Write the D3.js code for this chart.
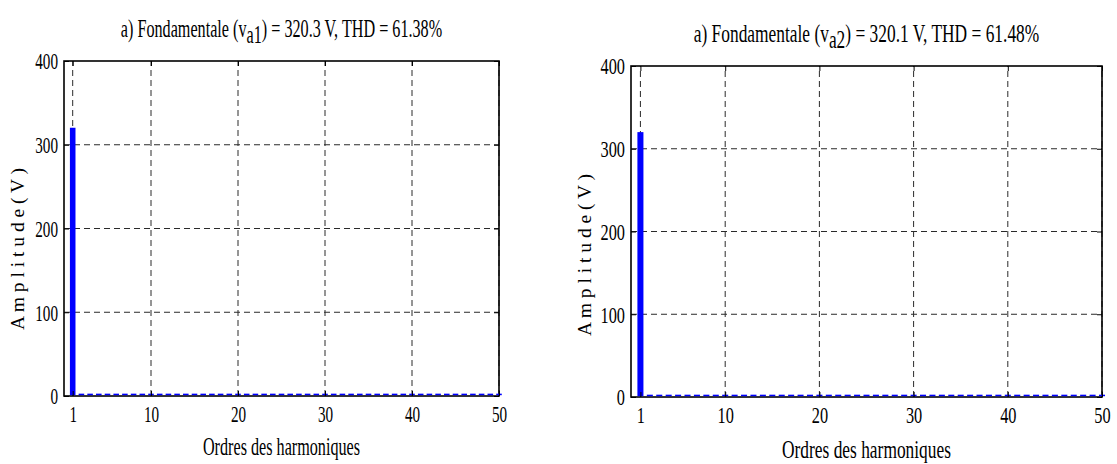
<!DOCTYPE html>
<html><head><meta charset="utf-8">
<script src="https://cdn.jsdelivr.net/npm/d3@7"></script>
<style>
body{margin:0;background:#fff}
</style>
</head><body>
<svg id="c" width="1117" height="464"></svg>
<script>
// ---- data ----
const harmonics = [1,2,3,4,5,6,7,8,9,10,11,12,13,14,15,16,17,18,19,20,21,22,23,24,25,26,27,28,29,30,31,32,33,34,35,36,37,38,39,40,41,42,43,44,45,46,47,48,49,50];
const ampVa1 = [320.3,2.8,2.8,2.8,2.8,2.8,2.8,2.8,2.8,2.8,2.8,2.8,2.8,2.8,2.8,2.8,2.8,2.8,2.8,2.8,2.8,2.8,2.8,2.8,2.8,2.8,2.8,2.8,2.8,2.8,2.8,2.8,2.8,2.8,2.8,2.8,2.8,2.8,2.8,2.8,2.8,2.8,2.8,2.8,2.8,2.8,2.8,2.8,2.8,2.8];
const ampVa2 = [320.1,2.8,2.8,2.8,2.8,2.8,2.8,2.8,2.8,2.8,2.8,2.8,2.8,2.8,2.8,2.8,2.8,2.8,2.8,2.8,2.8,2.8,2.8,2.8,2.8,2.8,2.8,2.8,2.8,2.8,2.8,2.8,2.8,2.8,2.8,2.8,2.8,2.8,2.8,2.8,2.8,2.8,2.8,2.8,2.8,2.8,2.8,2.8,2.8,2.8];
const xTicks = [1,10,20,30,40,50];
const yTicks = [0,100,200,300,400];
const titleA1 = ["a) Fondamentale (v", "a1", ") = 320.3 V, THD = 61.38%"];
const titleA2 = ["a) Fondamentale (v", "a2", ") = 320.1 V, THD = 61.48%"];
const xLabel = "Ordres des harmoniques";
const yLabel = "A m p l i t u d e  ( V )";

const FONT = "'Liberation Serif', 'Times New Roman', Times, serif";
const svg = d3.select("#c");

function panel(cfg){
  const g = svg.append("g");
  const sx = cfg.sx;
  const x = d3.scaleLinear().domain([0,50]).range([cfg.x0,cfg.x1]);
  const y = d3.scaleLinear().domain([0,400]).range([cfg.y0,cfg.y1]);

  // grid
  g.append("g").selectAll("line").data(xTicks).join("line")
    .attr("x1",d=>x(d)).attr("x2",d=>x(d)).attr("y1",y(0)).attr("y2",y(400))
    .attr("stroke","#2a2a2a").attr("stroke-width",1).attr("stroke-dasharray","6,4");
  g.append("g").selectAll("line").data([100,200,300]).join("line")
    .attr("x1",x(0)).attr("x2",x(50)).attr("y1",d=>y(d)).attr("y2",d=>y(d))
    .attr("stroke","#2a2a2a").attr("stroke-width",1).attr("stroke-dasharray","6,4");

  // frame
  g.append("rect").attr("x",x(0)).attr("y",y(400)).attr("width",x(50)-x(0)).attr("height",y(0)-y(400))
    .attr("fill","none").attr("stroke","#000").attr("stroke-width",1.6);

  // bars
  const bw = 0.64;
  g.append("g").selectAll("rect").data(harmonics.map((h,i)=>({h, v:cfg.data[i]}))).join("rect")
    .attr("x",d=>x(d.h-bw/2)).attr("width",x(bw)-x(0))
    .attr("y",d=>y(d.v)).attr("height",d=>y(0)-y(d.v)-0.8)
    .attr("fill","#0000ff");

  // axes (inward ticks)
  const fmt = d3.format("d");
  const ax = [
    {a:d3.axisBottom(x).tickValues(xTicks).tickSize(-5).tickSizeOuter(0).tickFormat(fmt), t:`translate(0,${y(0)})`},
    {a:d3.axisTop(x).tickValues(xTicks).tickSize(-5).tickSizeOuter(0).tickFormat(""), t:`translate(0,${y(400)})`},
    {a:d3.axisLeft(y).tickValues(yTicks).tickSize(-5).tickSizeOuter(0).tickFormat(fmt), t:`translate(${x(0)},0)`},
    {a:d3.axisRight(y).tickValues(yTicks).tickSize(-5).tickSizeOuter(0).tickFormat(""), t:`translate(${x(50)},0)`}
  ];
  ax.forEach((o,i)=>{
    const ag = g.append("g").attr("transform",o.t).call(o.a)
      .attr("font-family",FONT).attr("font-size",cfg.tickFs);
    ag.select(".domain").remove();
    ag.selectAll(".tick line").attr("stroke","#000");
    ag.selectAll("text").attr("fill","#000");
    if(i===0){
      ag.selectAll("text").attr("y",0).attr("dy",null)
        .attr("transform",`translate(0,${cfg.xtickBase}) scale(${sx},1)`);
    }
    if(i===2){
      ag.selectAll("text").attr("x",0).attr("dy","0.34em")
        .attr("transform",`translate(${-cfg.ytickGap},0) scale(${sx},1)`);
    }
  });

  // title
  const cx = (x(0)+x(50))/2;
  const t = g.append("text").attr("font-family",FONT).attr("font-size",cfg.titleFs).attr("text-anchor","middle")
    .attr("transform",`translate(${cx},${cfg.titleBase}) scale(${sx},1)`);
  t.append("tspan").text(cfg.title[0]);
  t.append("tspan").attr("dy",6).text(cfg.title[1]);
  t.append("tspan").attr("dy",-6).text(cfg.title[2]);

  // x label
  g.append("text").attr("font-family",FONT).attr("font-size",cfg.titleFs).attr("text-anchor","middle")
    .attr("transform",`translate(${cx},${cfg.xlabBase}) scale(${sx},1)`).text(xLabel);

  // y label
  g.append("text").attr("font-family",FONT).attr("font-size",cfg.ylabFs).attr("text-anchor","middle")
    .attr("transform",`translate(${cfg.ylabX},${cfg.ylabY}) rotate(-90) scale(1,0.95)`).text(yLabel);
}

panel({x0:64,x1:499,y0:396,y1:61,sx:0.66,data:ampVa1,title:titleA1,tickFs:23,titleFs:24.5,ylabFs:19.5,
  xtickBase:26,ytickGap:6,titleBase:37,xlabBase:455,ylabX:24,ylabY:249});
panel({x0:631,x1:1102,y0:397,y1:66,sx:0.71,data:ampVa2,title:titleA2,tickFs:23,titleFs:24.5,ylabFs:19.5,
  xtickBase:26,ytickGap:6,titleBase:42,xlabBase:458,ylabX:591,ylabY:255});
</script>
</body></html>
